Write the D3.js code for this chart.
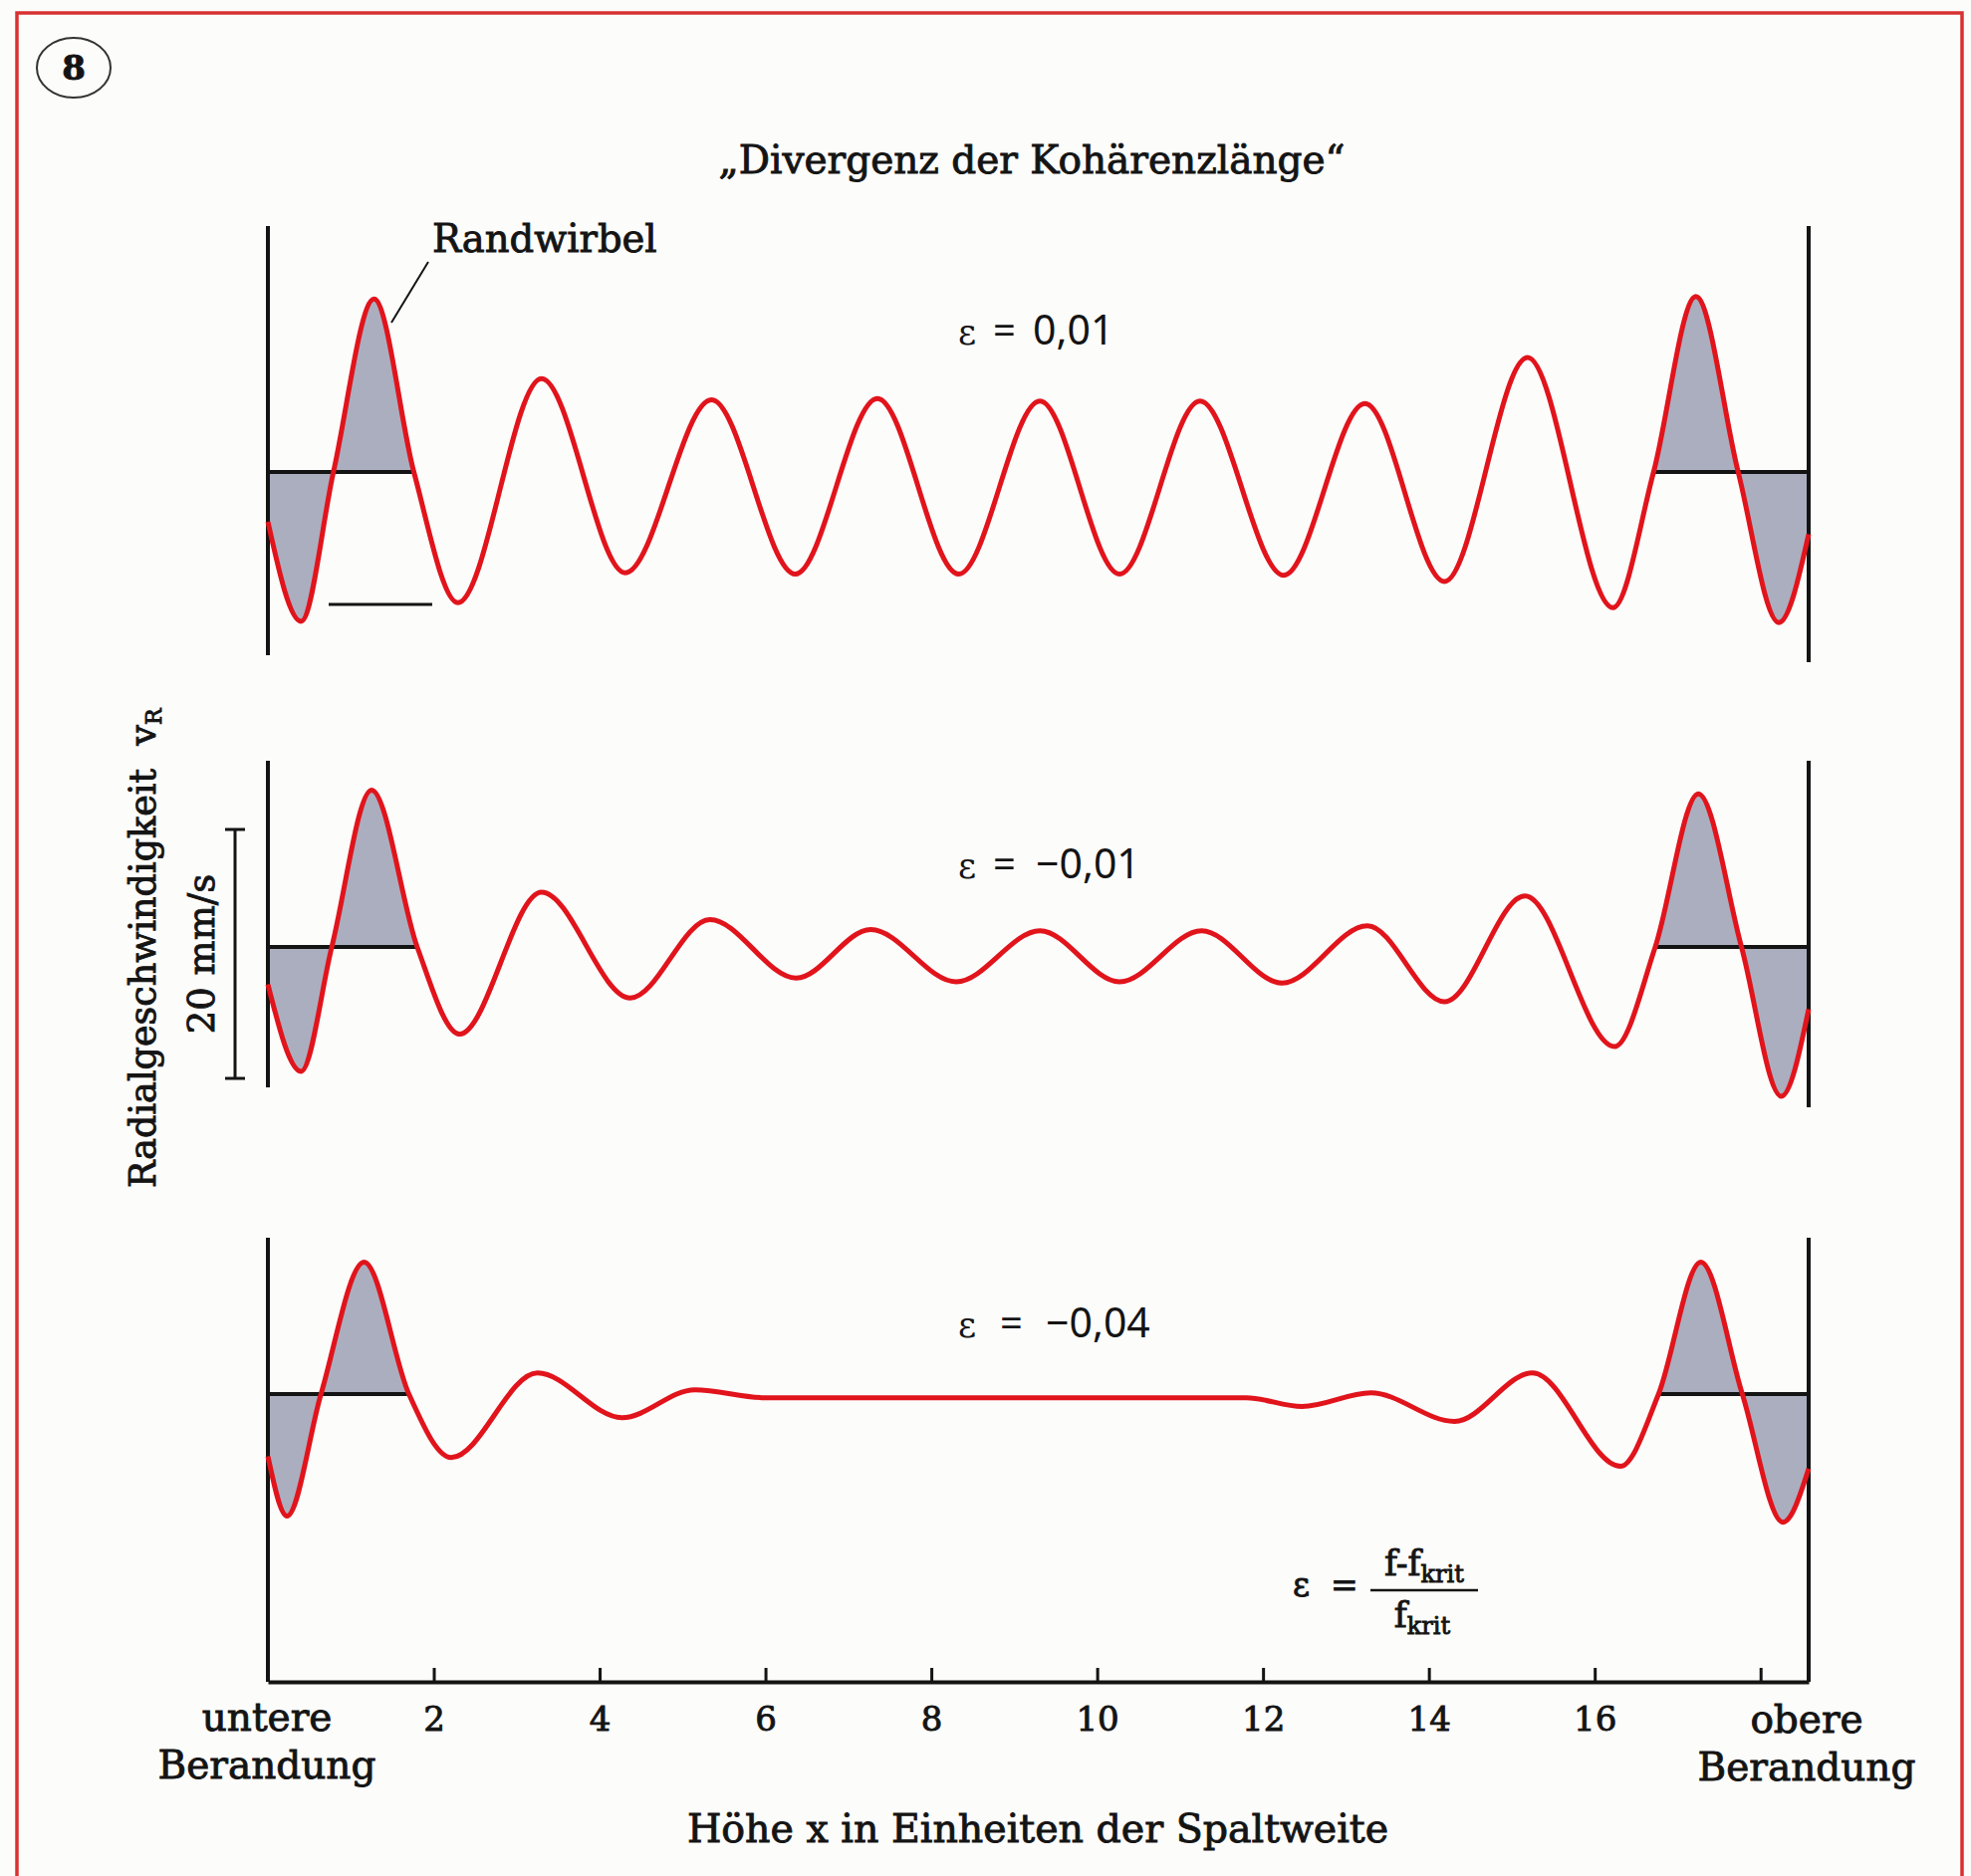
<!DOCTYPE html>
<html><head><meta charset="utf-8">
<script src="https://cdn.jsdelivr.net/npm/d3@7"></script>
<style>html,body{margin:0;padding:0;background:#fff;} svg{display:block;} text{white-space:pre;}</style>
</head><body>
<script>
// ---------- data ----------
const xEnd = 18.58;                         // upper boundary, in gap widths
const tickValues = [2, 4, 6, 8, 10, 12, 14, 16, 18];
const tickLabels = ["2", "4", "6", "8", "10", "12", "14", "16", ""];
const epsLabels = ["0,01", "\u22120,01", "\u22120,04"];

// eps = 0,01
const xTop = [0, 0.40, 0.79, 1.28, 1.76, 2.29, 3.30, 4.31, 5.35, 6.36, 7.35, 8.33, 9.31, 10.27, 11.24, 12.25, 13.23, 14.19, 15.19, 16.22, 16.71, 17.22, 17.73, 18.22, 18.58];
const vTop = [-4.0, -12.0, 0, 13.9, 0, -10.5, 7.5, -8.1, 5.8, -8.2, 5.9, -8.2, 5.7, -8.2, 5.7, -8.3, 5.5, -8.8, 9.2, -10.9, 0, 14.1, 0, -12.1, -5.0];
// eps = -0,01
const xMid = [0, 0.40, 0.77, 1.25, 1.80, 2.31, 3.30, 4.37, 5.33, 6.37, 7.27, 8.30, 9.31, 10.27, 11.26, 12.23, 13.26, 14.19, 15.16, 16.24, 16.73, 17.25, 17.77, 18.25, 18.58];
const vMid = [-3.0, -10.0, 0, 12.6, 0, -7.0, 4.4, -4.1, 2.2, -2.5, 1.4, -2.8, 1.3, -2.8, 1.3, -2.9, 1.7, -4.4, 4.1, -8.0, 0, 12.3, 0, -12.0, -5.0];
// eps = -0,04
const xBot = [0, 0.23, 0.64, 1.16, 1.70, 2.21, 3.25, 4.27, 5.15, 6.0, 8.0, 10.0, 11.8, 12.47, 13.30, 14.31, 15.25, 16.31, 16.77, 17.28, 17.78, 18.27, 18.58];
const vBot = [-5.0, -9.8, 0, 10.6, 0, -5.1, 1.7, -1.9, 0.35, -0.3, -0.3, -0.3, -0.3, -1.0, 0.1, -2.2, 1.7, -5.8, 0, 10.6, 0, -10.3, -6.0];

// boundary vortices ("Randwirbel"): zero crossings bounding the shaded parts
const vortexLeftEnd = [1.76, 1.80, 1.70];
const vortexRightStart = [16.71, 16.73, 16.77];
const scaleBarValue = 20; // mm/s

// ---------- layout ----------
const W = 1979, H = 1884;
const serif = "'DejaVu Serif', 'Liberation Serif', serif";
const sans = "'Noto Sans', 'DejaVu Sans', sans-serif";
const INK = "#141414", RED = "#e1141c", FILL = "#abaebf";

const svg = d3.select("body").append("svg").attr("width", W).attr("height", H);
svg.append("rect").attr("width", W).attr("height", H).attr("fill", "#fcfcfb");

// helper: slightly emboldened serif text
function txt(sel, size) {
  return sel.attr("font-family", serif).attr("font-size", size).attr("fill", INK)
    .attr("stroke", INK).attr("stroke-width", 0.9).attr("paint-order", "stroke");
}

// red frame
svg.append("rect").attr("x", 17).attr("y", 13).attr("width", 1953).attr("height", 1920)
  .attr("fill", "none").attr("stroke", "#d83232").attr("stroke-width", 3.5);

// figure number
svg.append("ellipse").attr("cx", 74).attr("cy", 68).attr("rx", 37).attr("ry", 30)
  .attr("fill", "none").attr("stroke", "#333").attr("stroke-width", 2);
txt(svg.append("text"), 34).attr("x", 74).attr("y", 80).attr("text-anchor", "middle")
  .attr("font-weight", "bold").text("8");

// title
txt(svg.append("text"), 39).attr("x", 1036).attr("y", 174).attr("text-anchor", "middle")
  .text("\u201EDivergenz der Koh\u00E4renzl\u00E4nge\u201C");

const x = d3.scaleLinear().domain([0, xEnd]).range([269, 1816]);
const unitPx = 12.5; // px per mm/s

const panels = [
  {xs: xTop, vs: vTop, base: 474, left: [227, 658], right: [227, 665], ly: 346, lx: [962, 997, 1037]},
  {xs: xMid, vs: vMid, base: 951, left: [764, 1092], right: [764, 1112], ly: 882, lx: [962, 997, 1040]},
  {xs: xBot, vs: vBot, base: 1400, left: [1243, 1689], right: [1243, 1689], ly: 1343, lx: [962, 1004, 1050]}
];

panels.forEach((p, i) => {
  const y = d3.scaleLinear().domain([-scaleBarValue, scaleBarValue])
    .range([p.base + scaleBarValue * unitPx, p.base - scaleBarValue * unitPx]);
  const data = p.xs.map((xv, j) => ({x: xv, v: p.vs[j]}));
  const g = svg.append("g");

  const clipId = "clip" + i;
  const cp = svg.append("clipPath").attr("id", clipId);
  cp.append("rect").attr("x", x(0)).attr("y", p.base - 300)
    .attr("width", x(vortexLeftEnd[i]) - x(0)).attr("height", 600);
  cp.append("rect").attr("x", x(vortexRightStart[i])).attr("y", p.base - 300)
    .attr("width", x(xEnd) - x(vortexRightStart[i])).attr("height", 600);

  const area = d3.area().x(d => x(d.x)).y0(y(0)).y1(d => y(d.v)).curve(d3.curveMonotoneX);
  g.append("path").datum(data).attr("d", area).attr("fill", FILL).attr("clip-path", `url(#${clipId})`);

  // zero lines of the boundary vortices
  g.append("line").attr("x1", x(0)).attr("x2", x(vortexLeftEnd[i])).attr("y1", y(0)).attr("y2", y(0))
    .attr("stroke", INK).attr("stroke-width", 4);
  g.append("line").attr("x1", x(vortexRightStart[i])).attr("x2", x(xEnd)).attr("y1", y(0)).attr("y2", y(0))
    .attr("stroke", INK).attr("stroke-width", 4);

  // boundaries
  g.append("line").attr("x1", x(0)).attr("x2", x(0)).attr("y1", p.left[0]).attr("y2", p.left[1])
    .attr("stroke", INK).attr("stroke-width", 4);
  g.append("line").attr("x1", x(xEnd)).attr("x2", x(xEnd)).attr("y1", p.right[0]).attr("y2", p.right[1])
    .attr("stroke", INK).attr("stroke-width", 4);

  const line = d3.line().x(d => x(d.x)).y(d => y(d.v)).curve(d3.curveMonotoneX);
  g.append("path").datum(data).attr("d", line).attr("fill", "none")
    .attr("stroke", RED).attr("stroke-width", 5).attr("stroke-linejoin", "round");

  // epsilon label
  g.append("text").attr("x", p.lx[0]).attr("y", p.ly).attr("font-family", serif)
    .attr("font-size", 35).attr("fill", INK).text("\u03B5");
  g.append("text").attr("x", p.lx[1]).attr("y", p.ly).attr("font-family", sans)
    .attr("font-size", 40).attr("fill", INK).text("=");
  g.append("text").attr("x", p.lx[2]).attr("y", p.ly).attr("font-family", sans)
    .attr("font-size", 41).attr("fill", INK).text(epsLabels[i]);
});

// stray short line in top panel (part of original drawing)
svg.append("line").attr("x1", 330).attr("x2", 434).attr("y1", 607).attr("y2", 607)
  .attr("stroke", INK).attr("stroke-width", 3);

// Randwirbel annotation
txt(svg.append("text"), 38.5).attr("x", 434).attr("y", 253).text("Randwirbel");
svg.append("line").attr("x1", 430).attr("y1", 263).attr("x2", 393).attr("y2", 324)
  .attr("stroke", INK).attr("stroke-width", 2);

// scale bar 20 mm/s
const barTop = 833, barBot = barTop + scaleBarValue * unitPx, barX = 236;
svg.append("line").attr("x1", barX).attr("x2", barX).attr("y1", barTop).attr("y2", barBot)
  .attr("stroke", INK).attr("stroke-width", 3);
[barTop, barBot].forEach(yy => svg.append("line").attr("x1", barX - 10).attr("x2", barX + 10)
  .attr("y1", yy).attr("y2", yy).attr("stroke", INK).attr("stroke-width", 3));
txt(svg.append("text"), 37).attr("transform", `translate(215,${(barTop + barBot) / 2}) rotate(-90)`)
  .attr("text-anchor", "middle").text(scaleBarValue + " mm/s");

// y title
const yt = txt(svg.append("text"), 36.5).attr("transform", "translate(156,1193) rotate(-90)");
yt.append("tspan").text("Radialgeschwindigkeit  v");
yt.append("tspan").attr("font-size", 22).attr("dy", 6).text("R");

// x axis
const axis = d3.axisBottom(x).tickValues(tickValues).tickFormat((d, i) => tickLabels[i])
  .tickSizeInner(-14).tickSizeOuter(0).tickPadding(25);
const gx = svg.append("g").attr("transform", "translate(0,1689)").call(axis);
gx.select(".domain").attr("stroke", INK).attr("stroke-width", 4);
gx.selectAll(".tick line").attr("stroke", INK).attr("stroke-width", 3);
gx.selectAll(".tick text").call(s => txt(s, 34));

// boundary labels
[["untere", 268, 1738], ["Berandung", 268, 1786], ["obere", 1814, 1740], ["Berandung", 1814, 1788]]
  .forEach(([s, xx, yy]) => txt(svg.append("text"), 39).attr("x", xx).attr("y", yy)
    .attr("text-anchor", "middle").text(s));

// x title
txt(svg.append("text"), 39.5).attr("x", 1042).attr("y", 1850).attr("text-anchor", "middle")
  .text("H\u00F6he x in Einheiten der Spaltweite");

// epsilon definition
txt(svg.append("text"), 33).attr("x", 1298).attr("y", 1603).text("\u03B5  =");
const num = txt(svg.append("text"), 35).attr("x", 1430).attr("y", 1582).attr("text-anchor", "middle");
num.append("tspan").text("f-f");
num.append("tspan").attr("font-size", 24).attr("dy", 7).text("krit");
svg.append("line").attr("x1", 1376).attr("x2", 1484).attr("y1", 1597).attr("y2", 1597)
  .attr("stroke", INK).attr("stroke-width", 2.5);
const den = txt(svg.append("text"), 35).attr("x", 1428).attr("y", 1634).attr("text-anchor", "middle");
den.append("tspan").text("f");
den.append("tspan").attr("font-size", 24).attr("dy", 7).text("krit");
</script>
</body></html>
